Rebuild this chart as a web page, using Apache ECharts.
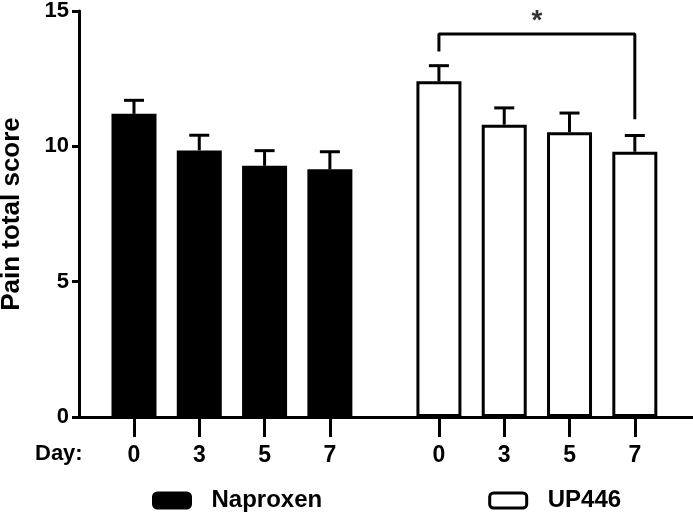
<!DOCTYPE html>
<html>
<head>
<meta charset="utf-8">
<script src="https://cdn.jsdelivr.net/npm/echarts@6/dist/echarts.min.js"></script>
<style>
  html, body { margin: 0; padding: 0; background: #fff; }
  #chart { width: 693px; height: 516px; }
</style>
</head>
<body>
<div id="chart"></div>
<script>
// values
const days = ['0', '3', '5', '7'];
const naproxenMean = [11.2, 9.85, 9.28, 9.15];
const naproxenSem = [0.5, 0.56, 0.56, 0.65];
const up446Mean = [12.4, 10.8, 10.52, 9.8];
const up446Sem = [0.58, 0.62, 0.71, 0.6];
const yTicks = [0, 5, 10, 15];
const bracketTop = 14.15;
const bracketLegEnds = [13.5, 11.0];

// layout of the two groups along a value x axis
const groupOffset = 4.67;
const napPos = days.map((d, i) => i);
const upPos = days.map((d, i) => i + groupOffset);
const allPos = napPos.concat(upPos);
const FONT = 'Liberation Sans, Arial, Helvetica, sans-serif';

function labelFor(v) {
  const idx = allPos.findIndex(p => Math.abs(p - v) < 1e-6);
  return idx < 0 ? '' : days[idx % days.length];
}

const napData = napPos.map((p, i) => [p, naproxenMean[i]]);
const upData = upPos.map((p, i) => [p, up446Mean[i]]);
const errData = napPos.map((p, i) => [p, naproxenMean[i], naproxenSem[i]])
  .concat(upPos.map((p, i) => [p, up446Mean[i], up446Sem[i]]));

const bracketData = [
  [upPos[0], bracketLegEnds[0]],
  [upPos[0], bracketTop],
  [upPos[3], bracketTop],
  [upPos[3], bracketLegEnds[1]]
];

function renderErr(params, api) {
  const x = api.value(0);
  const m = api.value(1);
  const s = api.value(2);
  const base = api.coord([x, m]);
  const top = api.coord([x, m + s]);
  const style = { stroke: '#000', lineWidth: 3 };
  return {
    type: 'group',
    children: [
      { type: 'line', shape: { x1: base[0], y1: base[1], x2: top[0], y2: top[1] }, style: style },
      { type: 'line', shape: { x1: top[0] - 10, y1: top[1], x2: top[0] + 10, y2: top[1] }, style: style }
    ]
  };
}

const chart = echarts.init(document.getElementById('chart'), null, { renderer: 'canvas' });
chart.setOption({
  animation: false,
  backgroundColor: '#fff',
  textStyle: { fontFamily: FONT },
  grid: { left: 79, right: 0, top: 11, bottom: 99, outerBoundsMode: 'none', containLabel: false },
  legend: {
    data: ['Naproxen', 'UP446'],
    left: 152,
    top: 488,
    padding: 0,
    icon: 'roundRect',
    itemWidth: 37,
    itemHeight: 15,
    itemGap: 166,
    itemStyle: { borderColor: '#000', borderWidth: 3 },
    textStyle: { color: '#000', fontSize: 24, fontWeight: 'bold', fontFamily: FONT, padding: [0, 0, 0, 16], lineHeight: 25 }
  },
  xAxis: {
    type: 'value',
    min: -0.842,
    max: 8.561,
    splitLine: { show: false },
    axisLine: { show: true, onZero: false, lineStyle: { color: '#000', width: 3 } },
    axisTick: { show: true, customValues: allPos, length: 20, lineStyle: { color: '#000', width: 3 } },
    axisLabel: {
      customValues: allPos,
      formatter: labelFor,
      margin: 27,
      color: '#000',
      fontSize: 23,
      fontWeight: 'bold',
      fontFamily: FONT
    }
  },
  yAxis: {
    type: 'value',
    min: 0,
    max: 15,
    interval: 5,
    name: 'Pain total score',
    nameLocation: 'middle',
    nameGap: 54,
    nameTextStyle: { color: '#000', fontSize: 26, fontWeight: 'bold', fontFamily: FONT },
    splitLine: { show: false },
    axisLine: { show: true, onZero: false, lineStyle: { color: '#000', width: 3 } },
    axisTick: { show: true, length: 7, lineStyle: { color: '#000', width: 3 } },
    axisLabel: { margin: 10, color: '#000', fontSize: 22, fontWeight: 'bold', fontFamily: FONT }
  },
  graphic: [{
    type: 'text',
    left: 35,
    top: 443,
    style: { text: 'Day:', fill: '#000', font: 'bold 22px ' + FONT }
  }],
  series: [
    {
      name: 'Naproxen',
      type: 'bar',
      data: napData,
      barWidth: 45,
      barGap: '-100%',
      itemStyle: { color: '#000' }
    },
    {
      name: 'UP446',
      type: 'bar',
      data: upData,
      barWidth: 45,
      barGap: '-100%',
      itemStyle: { color: '#fff', borderColor: '#000', borderWidth: 3 }
    },
    {
      type: 'custom',
      data: errData,
      renderItem: renderErr,
      z: 3
    },
    {
      type: 'line',
      data: bracketData,
      symbol: 'none',
      lineStyle: { color: '#000', width: 3 }
    },
    {
      type: 'scatter',
      data: [[(upPos[0] + upPos[3]) / 2, bracketTop]],
      symbolSize: 1,
      itemStyle: { color: 'rgba(0,0,0,0)' },
      label: { show: true, position: 'top', distance: -2, formatter: '*', color: '#000', fontSize: 28, fontWeight: 'bold', fontFamily: FONT }
    }
  ]
});
</script>
</body>
</html>
